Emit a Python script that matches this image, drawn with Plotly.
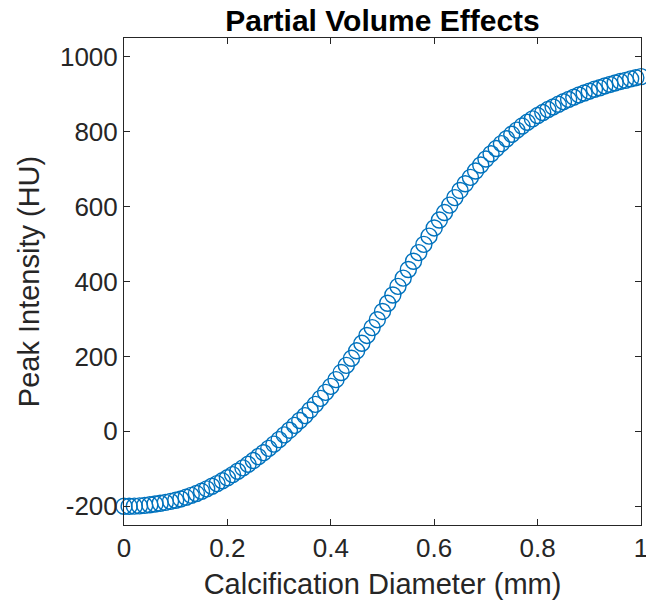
import plotly.graph_objects as go

# Calcification diameter (mm), sampled every 0.01 mm
diameter_mm = [round(i * 0.01, 2) for i in range(101)]

# Peak intensity (HU)
peak_hu = [
    -200, -200, -199.5, -199, -197.5, -196, -194, -192, -189.5, -187,
    -184, -180.5, -176, -171, -166, -160, -153.5, -146.5, -139.5, -132,
    -124, -115.5, -106.5, -97.5, -88, -78, -67.5, -57, -45.5, -34,
    -22, -9.5, 3, 16, 29, 42, 57, 72, 88, 104,
    120, 138, 157, 176, 195, 215, 235, 256, 277, 298,
    320, 342, 364, 387, 409, 432, 454, 477, 499, 521,
    543, 564, 584, 604, 624, 643, 661, 678, 695, 711,
    727, 741, 755, 768, 781, 793, 804, 815, 825, 834,
    843, 851, 859, 866, 873, 880, 886, 892, 898, 903,
    908, 913, 917, 922, 926, 930, 934, 937, 941, 944,
    947,
]

x_ticks = [0, 0.2, 0.4, 0.6, 0.8, 1]
x_tick_text = ["0", "0.2", "0.4", "0.6", "0.8", "1"]
y_ticks = [-200, 0, 200, 400, 600, 800, 1000]
y_tick_text = ["-200", "0", "200", "400", "600", "800", "1000"]

FONT = "Liberation Sans, Arial, Helvetica, sans-serif"
AX = "#262626"

fig = go.Figure(
    go.Scatter(
        x=diameter_mm,
        y=peak_hu,
        mode="markers",
        marker=dict(symbol="circle-open", size=16, color="#0072BD",
                    line=dict(width=1.4, color="#0072BD")),
        cliponaxis=False,
        showlegend=False,
    )
)

axis_common = dict(
    showline=True, linecolor=AX, linewidth=1, mirror="ticks",
    ticks="inside", ticklen=6, tickwidth=1, tickcolor=AX,
    showgrid=False, zeroline=False,
    ticklabeloverflow="allow", automargin=False,
    tickfont=dict(family=FONT, size=26, color=AX),
)

fig.update_xaxes(
    range=[0, 1], tickvals=x_ticks, ticktext=x_tick_text,
    title=dict(text="Calcification Diameter (mm)",
               font=dict(family=FONT, size=29, color=AX), standoff=11),
    **axis_common,
)
fig.update_yaxes(
    range=[-250, 1050], tickvals=y_ticks, ticktext=y_tick_text,
    title=dict(text="Peak Intensity (HU)",
               font=dict(family=FONT, size=29, color=AX), standoff=11),
    **axis_common,
)

fig.update_layout(
    width=646, height=607,
    margin=dict(l=124, r=5, t=38, b=82, autoexpand=False),
    paper_bgcolor="white", plot_bgcolor="white",
    title=dict(text="<b>Partial Volume Effects</b>",
               font=dict(family=FONT, size=30, color="black"),
               x=(124 + 641) / 2 / 646, xanchor="center",
               y=1 - 20 / 607, yanchor="middle", yref="container"),
)

fig.write_html("out.html")
